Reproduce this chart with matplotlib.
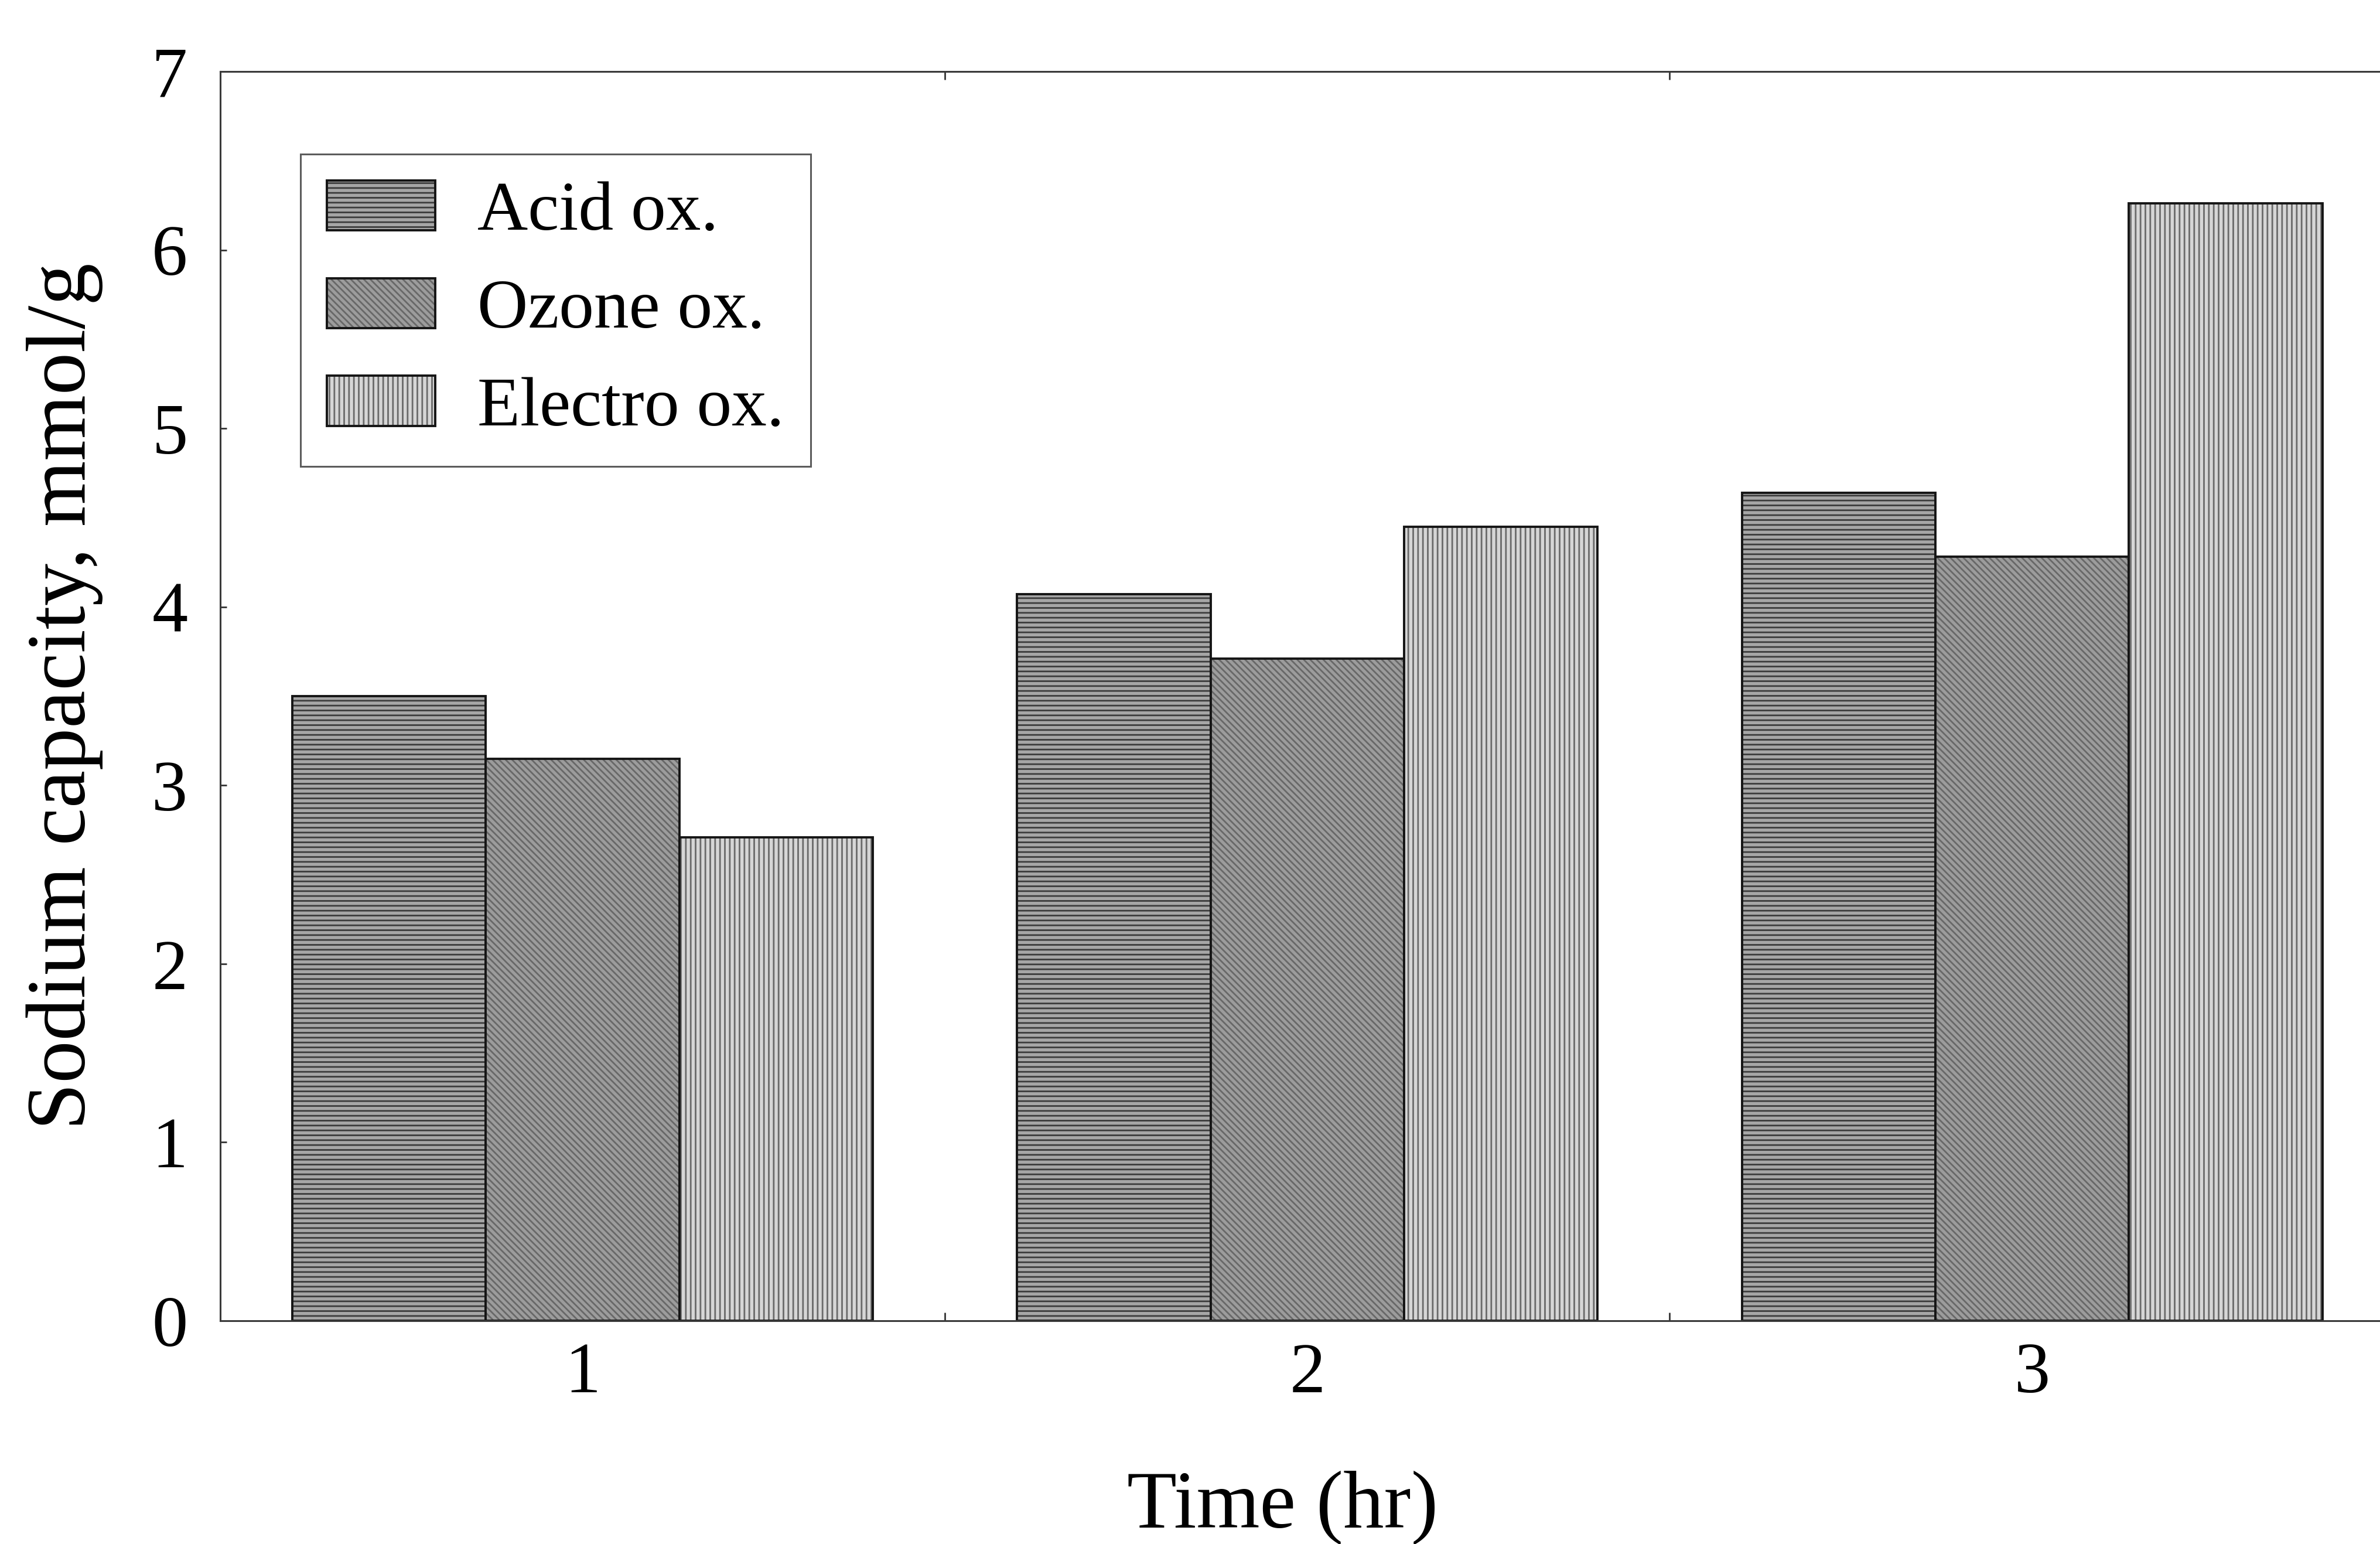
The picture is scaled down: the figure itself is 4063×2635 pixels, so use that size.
import numpy as np
import matplotlib
matplotlib.use('Agg')
import matplotlib.pyplot as plt
from matplotlib.ticker import FixedLocator, NullLocator

# Data
times = [1, 2, 3]
series = ['Acid ox.', 'Ozone ox.', 'Electro ox.']
acid = [3.50, 4.07, 4.64]
ozone = [3.15, 3.71, 4.28]
electro = [2.71, 4.45, 6.26]

plt.rcParams['font.family'] = ['Liberation Serif', 'DejaVu Serif']
plt.rcParams['hatch.linewidth'] = 2.0

fig = plt.figure(figsize=(40.63, 26.35), dpi=100)
ax = fig.add_axes([0.0925, 0.1446, 0.9136, 0.8091])

# styles per series: face colour, hatch, hatch colour
styles = [('#a6a6a6', '--', '#3c3c3c'),
          ('#9c9c9c', '\\\\\\', '#686868'),
          ('#d6d6d6', '||', '#6a6a6a')]

width = 0.267
x = np.array(times, dtype=float)
handles = []
for i, (vals, (fc, hatch, hc)) in enumerate(zip([acid, ozone, electro], styles)):
    pos = x + (i - 1) * width
    b1 = ax.bar(pos, vals, width, color=fc, hatch=hatch, edgecolor=hc, linewidth=0)
    b2 = ax.bar(pos, vals, width, fill=False, edgecolor='#151515', linewidth=2.8)
    handles.append((b1, b2))

ax.set_xlim(0.5, 3.5)
ax.set_ylim(0, 7)
ax.set_xticks(times)
ax.set_xticklabels([str(t) for t in times])
ax.xaxis.set_minor_locator(FixedLocator([1.5, 2.5]))
ax.set_yticks(range(0, 8))
ax.yaxis.set_minor_locator(NullLocator())

ax.tick_params(axis='x', which='major', length=0, pad=26, labelsize=88)
ax.tick_params(axis='x', which='minor', direction='in', length=10, width=2,
               top=True, bottom=True, color='#333333')
ax.tick_params(axis='y', which='major', direction='in', length=8, width=2,
               pad=40, labelsize=88, color='#333333')

for side in ['left', 'top', 'bottom']:
    ax.spines[side].set_linewidth(2.2)
    ax.spines[side].set_color('#3a3a3a')
ax.spines['right'].set_visible(False)

ax.set_xlabel('Time (hr)', fontsize=100, va='top')
ax.xaxis.set_label_coords(0.4885, -0.12)
ax.set_ylabel('Sodium capacity, mmol/g', fontsize=104, labelpad=60)

leg = ax.legend(handles, series, loc='upper left', bbox_to_anchor=(0.0369, 0.934),
                borderaxespad=0, fontsize=86, frameon=True, fancybox=False,
                handlelength=1.55, handleheight=0.72, handletextpad=0.6,
                labelspacing=0.48, borderpad=0.38)
leg.get_frame().set_edgecolor('#333333')
leg.get_frame().set_linewidth(2.2)

fig.savefig('out.png', dpi=100, facecolor='white')
